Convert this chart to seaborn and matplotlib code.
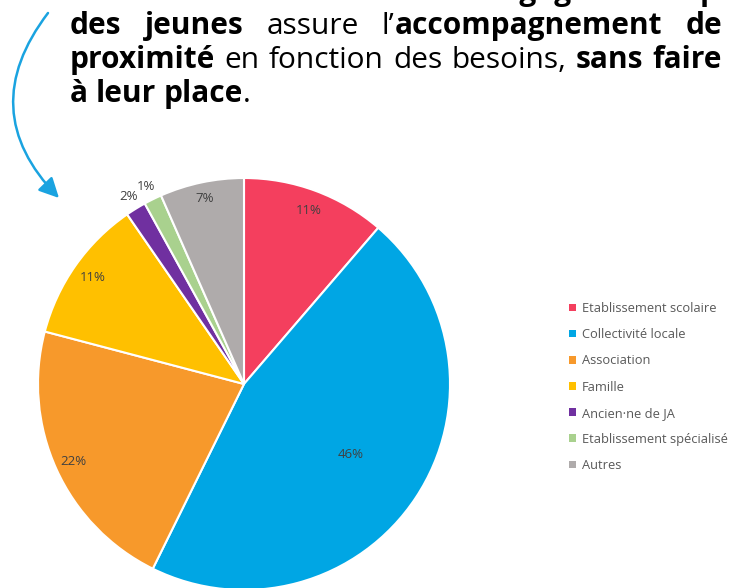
import matplotlib
matplotlib.use("Agg")
import matplotlib.pyplot as plt
import seaborn as sns
import numpy as np
from matplotlib.patches import Patch, FancyArrowPatch

# Data
categories = ["Etablissement scolaire", "Collectivité locale", "Association", "Famille",
              "Ancien·ne de JA", "Etablissement spécialisé", "Autres"]
values = [11.3, 46.0, 21.8, 11.3, 1.6, 1.4, 6.6]
slice_colors = ["#F43F5E", "#00A6E4", "#F7992B", "#FFC000", "#7030A0", "#A9D18E", "#AFABAB"]
label_radius = [0.90, 0.62, 0.91, 0.90, 1.07, 1.07, 0.92]

# Heading text (lines of words, each word = list of (text, weight))
heading_lines = [
    [[("des", "bold")], [("jeunes", "bold")], [("assure", "normal")],
     [("l’", "normal"), ("accompagnement", "bold")], [("de", "bold")]],
    [[("proximité", "bold")], [("en", "normal")], [("fonction", "normal")], [("des", "normal")],
     [("besoins,", "normal")], [("sans", "bold")], [("faire", "bold")]],
    [[("à", "bold")], [("leur", "bold")], [("place", "bold"), (".", "normal")]],
]

sns.set_theme(style="white")
plt.rcParams["font.family"] = ["Open Sans", "DejaVu Sans"]

W, H = 733, 588
fig = plt.figure(figsize=(W / 100, H / 100), dpi=100)
fig.patch.set_facecolor("white")

# Pie
cx, cy, r = 244, 384, 206
ax = fig.add_axes([(cx - r) / W, (H - cy - r) / H, 2 * r / W, 2 * r / H])
ax.pie(values, colors=slice_colors, startangle=90, counterclock=False, radius=1,
       wedgeprops=dict(edgecolor="white", linewidth=1.5))
ax.set_xlim(-1, 1)
ax.set_ylim(-1, 1)
ax.set_aspect("equal")
ax.axis("off")

cum = np.cumsum(values) - np.array(values) / 2
for v, c, rr in zip(values, cum, label_radius):
    th = np.deg2rad(90 - 360 * c / sum(values))
    ax.text(rr * np.cos(th), rr * np.sin(th), f"{round(v)}%", ha="center", va="center",
            fontsize=9.5, color="#404040")

# Legend
handles = [Patch(facecolor=c, edgecolor="none") for c in slice_colors]
fig.legend(handles, categories, loc="upper left", bbox_to_anchor=(569 / W, 1 - 302 / H),
           frameon=False, fontsize=9.3, labelcolor="#595959", handlelength=0.55,
           handleheight=0.55, handletextpad=0.45, labelspacing=1.02, borderpad=0,
           borderaxespad=0)

# Heading, justified between two edges
FS = 21.5
renderer = fig.canvas.get_renderer()


def seg_width(txt, weight):
    t = fig.text(0, 0, txt, fontsize=FS, weight=weight)
    w = t.get_window_extent(renderer).width
    t.remove()
    return w


left, right = 70, 722
baselines = [34, 68, 102]
space = FS * 100 / 72 * 0.26
for i, (line, yb) in enumerate(zip(heading_lines, baselines)):
    widths = [[seg_width(t, w) for t, w in word] for word in line]
    totals = [sum(ws) for ws in widths]
    if i < 2:
        gap = (right - left - sum(totals)) / (len(line) - 1)
    else:
        gap = space
    x = left
    for word, ws in zip(line, widths):
        for (t, w), sw in zip(word, ws):
            fig.text(x / W, 1 - yb / H, t, fontsize=FS, weight=w, color="black",
                     ha="left", va="baseline")
            x += sw
        x += gap

# cut-off line above (only descenders visible)
fig.text(483 / W, 1.0, "engagement", fontsize=FS, weight="bold", color="black",
         ha="left", va="baseline")
fig.text(700 / W, 1.0, "p", fontsize=FS, weight="bold", color="black",
         ha="left", va="baseline")

# Curved arrow
arrow = FancyArrowPatch((48 / W, 1 - 13 / H), (59 / W, 1 - 198 / H),
                        transform=fig.transFigure, connectionstyle="arc3,rad=0.43",
                        arrowstyle="-|>,head_length=1.0,head_width=0.5", mutation_scale=12,
                        color="#1AA3E0", linewidth=1.8, shrinkA=0, shrinkB=0)
fig.add_artist(arrow)

fig.savefig("out.png", dpi=100, facecolor="white")
